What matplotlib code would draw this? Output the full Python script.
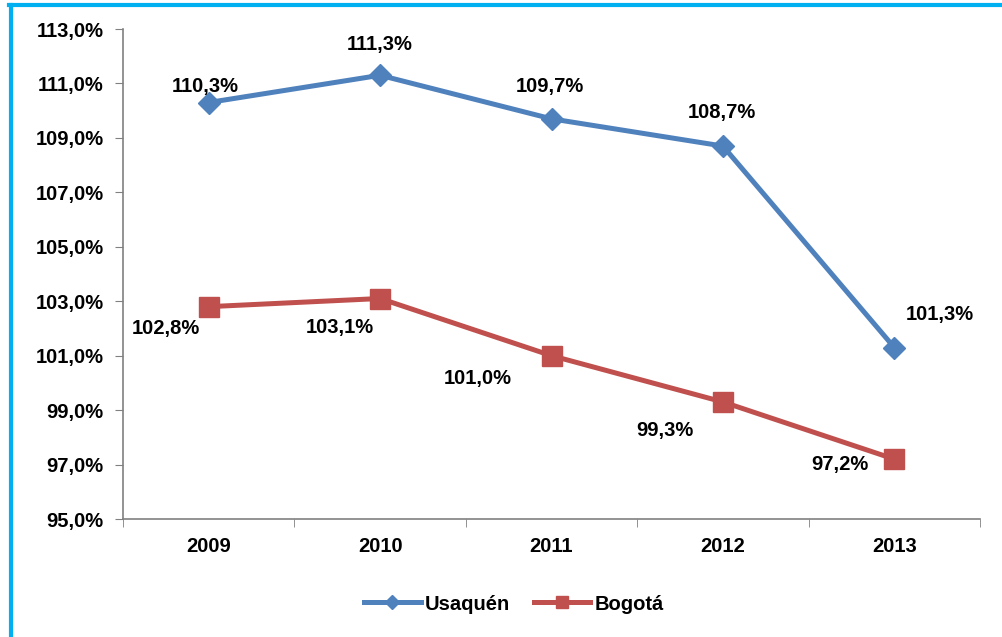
import matplotlib
matplotlib.use("Agg")
import matplotlib.pyplot as plt
from matplotlib.lines import Line2D

years = ["2009", "2010", "2011", "2012", "2013"]
usaquen = [110.3, 111.3, 109.7, 108.7, 101.3]
bogota = [102.8, 103.1, 101.0, 99.3, 97.2]
yticks = [95, 97, 99, 101, 103, 105, 107, 109, 111, 113]

plt.rcParams['font.family'] = ['Liberation Sans', 'DejaVu Sans']
plt.rcParams['font.weight'] = 'bold'

FS = 14.5
W, H = 1003, 637
fig = plt.figure(figsize=(W/100, H/100), dpi=100)
ax = fig.add_axes([123/W, 1-519/H, (980-123)/W, (519-29)/H])

x = list(range(len(years)))
blue = '#4F81BD'
red = '#C0504D'
ax.plot(x, usaquen, color=blue, lw=3.6, marker='D', ms=11, label='Usaquén', zorder=3)
ax.plot(x, bogota, color=red, lw=3.6, marker='s', ms=14.5, label='Bogotá', zorder=3)

ax.set_xlim(-0.5, 4.5)
ax.set_ylim(95, 113)
ax.set_yticks(yticks)
ax.set_yticklabels([f"{v:.1f}%".replace('.', ',') for v in yticks], fontsize=FS, fontweight='bold')
ax.set_xticks(x)
ax.set_xticklabels(years, fontsize=FS, fontweight='bold')
ax.set_xticks([i + 0.5 for i in range(-1, 5)], minor=True)
ax.tick_params(axis='x', which='major', length=0, pad=13)
ax.tick_params(axis='x', which='minor', length=6, color='#808080', direction='out')
ax.tick_params(axis='y', length=6, color='#808080', direction='out', pad=8)
for s in ['top', 'right']:
    ax.spines[s].set_visible(False)
for s in ['left', 'bottom']:
    ax.spines[s].set_color('#808080')
    ax.spines[s].set_linewidth(1.2)

fmt = lambda v: f"{v:.1f}%".replace('.', ',')
u_off = [(-3, 16), (0, 31), (-2, 32), (-1, 34), (46, 33)]
b_off = [(-43, -22), (-40, -29), (-74, -23), (-58, -29), (-54, -5)]
for i, v in enumerate(usaquen):
    ax.annotate(fmt(v), (i, v), xytext=u_off[i], textcoords='offset pixels',
                ha='center', va='center', fontsize=FS, fontweight='bold')
for i, v in enumerate(bogota):
    ax.annotate(fmt(v), (i, v), xytext=b_off[i], textcoords='offset pixels',
                ha='center', va='center', fontsize=FS, fontweight='bold')

leg = fig.legend(loc='center', bbox_to_anchor=(514/W, 1-604/H), ncol=2, frameon=False,
                 prop={'size': FS, 'weight': 'bold'}, handlelength=2.8,
                 handletextpad=0.2, columnspacing=1.2, markerscale=0.62)

# cyan frame
fig.add_artist(Line2D([10.5/W, 10.5/W], [0, 1-5/H], color='#00B0F0', lw=3, transform=fig.transFigure))
fig.add_artist(Line2D([9/W, 1], [1-5/H, 1-5/H], color='#00B0F0', lw=3, transform=fig.transFigure))

fig.savefig('out.png', dpi=100)
